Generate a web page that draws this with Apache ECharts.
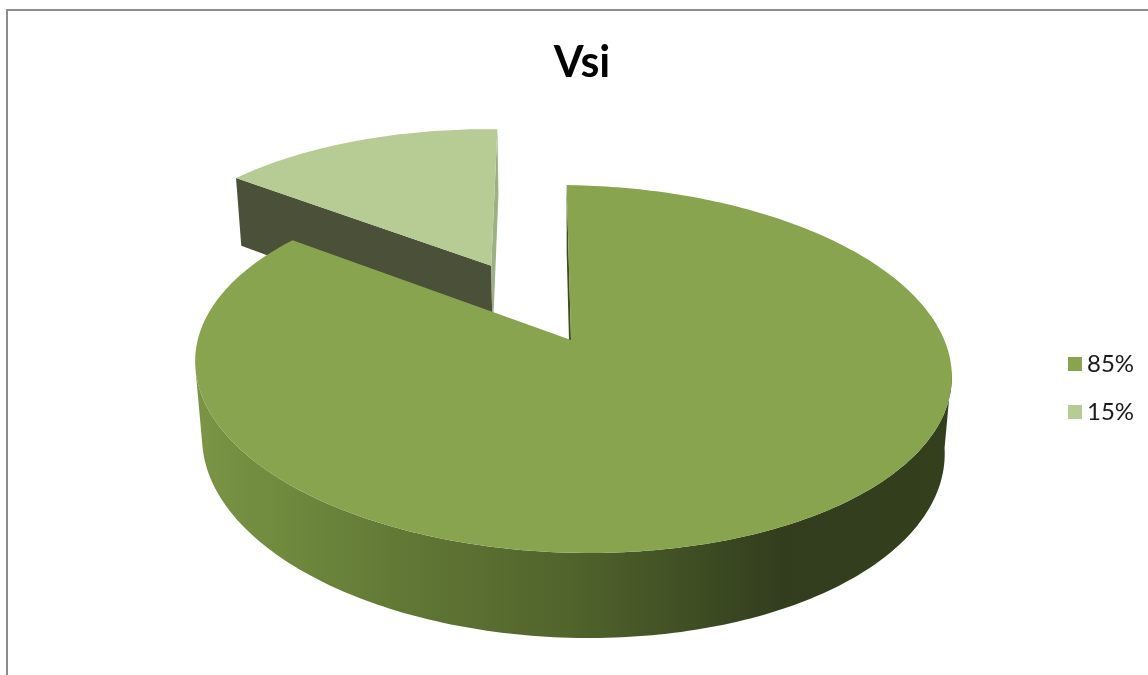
<!DOCTYPE html>
<html>
<head>
<meta charset="utf-8">
<style>html,body{margin:0;padding:0;background:#fff}#c{width:1148px;height:675px}</style>
<script src="https://cdn.jsdelivr.net/npm/echarts@6/dist/echarts.min.js"></script>
</head>
<body>
<div id="c"></div>
<script>
var chartTitle = 'Vsi';
var sliceLabels = ['85%', '15%'];
var sliceValues = [85, 15];
var sliceColors = ['#88a44e', '#b7cb94'];
var sliceExplode = [0, 0.49];
var radialWallColors = ['#3c4a20', '#9db083'];
var backWallColor = '#4b5138';
var wallStops = [
  [0, '#7a9445'], [0.12, '#6e883d'], [0.3, '#5f7534'], [0.5, '#50632b'],
  [0.66, '#3f4e23'], [0.78, '#323d1d'], [1, '#343f1e']
];
var startDeg = 1.6;

// perspective projection of the pie's disc
var view = { ax: 571, ay: 340, R: 373.3, skew: -15.5, k: 0.1576, b: 179.4, dLow: 0.0185, eLow: 0.43 };
function project(X, Y, low) {
  var w = 1 + view.k * Y + (low ? view.dLow : 0);
  return [view.ax + (view.R * X + view.skew * Y) / w,
          view.ay - view.b * (Y - (low ? view.eLow : 0)) / w];
}
function rimXY(deg, off) {
  var t = deg * Math.PI / 180;
  return [Math.sin(t) + off[0], Math.cos(t) + off[1]];
}
function total() { return sliceValues.reduce(function (a, b) { return a + b; }, 0); }

function sliceRender(index) {
  return function (params, api) {
    var value = api.value(0);
    var before = 0;
    for (var i = 0; i < index; i++) before += sliceValues[i];
    var from = startDeg + before / total() * 360;
    var to = from + value / total() * 360;
    var mid = (from + to) / 2 * Math.PI / 180;
    var off = [Math.sin(mid) * sliceExplode[index], Math.cos(mid) * sliceExplode[index]];

    var topPts = [project(off[0], off[1], false)];
    var frontTop = [], frontLow = [];
    for (var a = from; a <= to + 1e-6; a += 1) {
      var p = rimXY(a, off);
      topPts.push(project(p[0], p[1], false));
      if (p[1] < -0.155) {
        frontTop.push(project(p[0], p[1], false));
        frontLow.unshift(project(p[0], p[1], true));
      }
    }
    var children = [];
    function quad(deg, fill) {
      var r = rimXY(deg, off);
      children.push({
        type: 'polygon',
        shape: { points: [project(off[0], off[1], false), project(r[0], r[1], false),
                          project(r[0], r[1], true), project(off[0], off[1], true)] },
        style: { fill: fill }
      });
    }
    if (index === 1) {
      quad(from, backWallColor);
      quad(to, radialWallColors[1]);
    } else {
      quad(from, radialWallColors[0]);
    }
    if (frontTop.length) {
      children.push({
        type: 'polygon',
        shape: { points: frontTop.concat(frontLow) },
        style: {
          fill: {
            type: 'linear', x: 203, y: 0, x2: 945, y2: 0, global: true,
            colorStops: wallStops.map(function (s) { return { offset: s[0], color: s[1] }; })
          }
        }
      });
    }
    children.push({ type: 'polygon', shape: { points: topPts }, style: { fill: sliceColors[index] } });
    return { type: 'group', children: children };
  };
}

var chart = echarts.init(document.getElementById('c'), null, { renderer: 'canvas' });
chart.setOption({
  animation: false,
  backgroundColor: '#ffffff',
  title: {
    text: chartTitle, left: 577, top: 37, textAlign: 'center',
    textStyle: { fontFamily: 'Lato', fontWeight: 'bold', fontSize: 43, color: '#000000' }
  },
  legend: {
    orient: 'vertical', left: 1063, top: 347, itemWidth: 14, itemHeight: 14, itemGap: 24,
    icon: 'rect', data: sliceLabels,
    textStyle: { fontFamily: 'Lato', fontSize: 24, lineHeight: 24, color: '#1a1a1a', padding: [0, 0, 0, 0] }
  },
  graphic: [{
    type: 'rect', silent: true, z: -1,
    shape: { x: 7, y: 10, width: 1300, height: 900 },
    style: { fill: 'none', stroke: '#8c8c8c', lineWidth: 2 }
  }],
  series: sliceLabels.map(function (name, i) {
    return {
      type: 'custom', name: name, coordinateSystem: 'none', z: 10 - i * 5,
      itemStyle: { color: sliceColors[i] },
      renderItem: sliceRender(i),
      data: [[sliceValues[i]]]
    };
  })
});
</script>
</body>
</html>
